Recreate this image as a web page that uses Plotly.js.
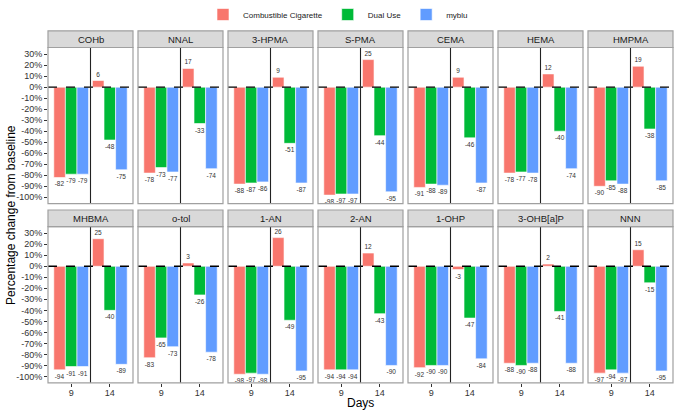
<!DOCTYPE html>
<html>
<head>
<meta charset="utf-8">
<script src="https://cdn.plot.ly/plotly-3.0.1.min.js"></script>
<style>html,body{margin:0;padding:0;background:#fff;}#chart{width:676px;height:412px;}</style>
</head>
<body>
<div id="chart"></div>
<script>
const markers = ['COHb','NNAL','3-HPMA','S-PMA','CEMA','HEMA','HMPMA','MHBMA','o-tol','1-AN','2-AN','1-OHP','3-OHB[a]P','NNN'];
const days = ['9','14'];
const seriesNames = ['Combustible Cigarette','Dual Use','myblu'];
const cig9  = [-82,-78,-88,-98,-91,-78,-90,-94,-83,-98,-94,-92,-88,-97];
const cig14 = [6,17,9,25,9,12,19,25,3,26,12,-3,2,15];
const dual9  = [-79,-73,-87,-97,-88,-77,-85,-91,-65,-97,-94,-90,-90,-94];
const dual14 = [-48,-33,-51,-44,-46,-40,-38,-40,-26,-49,-43,-47,-41,-15];
const blu9  = [-79,-77,-86,-97,-89,-78,-88,-91,-73,-98,-94,-90,-88,-97];
const blu14 = [-75,-74,-87,-95,-87,-74,-85,-89,-78,-95,-90,-84,-88,-95];
const yTicks = [30,20,10,0,-10,-20,-30,-40,-50,-60,-70,-80,-90,-100];

const colors = ['#F8766D','#00BA38','#619CFF'];
const seriesData = [[cig9,cig14],[dual9,dual14],[blu9,blu14]];
const W = 676, H = 412;
const FONT = 'Liberation Sans, Arial, sans-serif';

const traces = [];
const layout = {
  width: W, height: H,
  margin: {l:0, r:0, t:0, b:0},
  paper_bgcolor: '#fff', plot_bgcolor: '#fff',
  barmode: 'group', bargap: 0.1, bargroupgap: 0,
  font: {family: FONT, color: '#1a1a1a'},
  showlegend: true,
  legend: {orientation: 'h', x: 0.5, xanchor: 'center', y: 1.005, yanchor: 'top',
           font: {size: 8, color: '#1a1a1a'}, itemwidth: 30, tracegroupgap: 0},
  shapes: [], annotations: []
};

const rowsPx = [[45.7, 202.7], [225.7, 382.7]];
markers.forEach((m, i) => {
  const r = Math.floor(i / 7), c = i % 7;
  const n = i + 1;
  const xa = 'xaxis' + (n === 1 ? '' : n), ya = 'yaxis' + (n === 1 ? '' : n);
  const xr = 'x' + (n === 1 ? '' : n), yr = 'y' + (n === 1 ? '' : n);
  const x0 = 48 + 90 * c, x1 = x0 + 85;
  const [t, b] = rowsPx[r];
  layout[xa] = {
    domain: [x0 / W, x1 / W], anchor: yr, type: 'category',
    categoryorder: 'array', categoryarray: days,
    range: [-0.6, 1.6], showgrid: false, zeroline: false, showline: false,
    ticks: r === 1 ? 'outside' : '', ticklen: 3, tickcolor: '#333', tickwidth: 1,
    ticklabelstandoff: -2,
    showticklabels: r === 1, tickfont: {size: 9, color: '#333', family: FONT}, fixedrange: true
  };
  layout[ya] = {
    domain: [1 - b / H, 1 - t / H], anchor: xr,
    range: [-105.8, 36], showgrid: false, zeroline: false, showline: false,
    tickvals: yTicks, ticktext: yTicks.map(v => v + '%'),
    ticks: c === 0 ? 'outside' : '', ticklen: 3, tickcolor: '#333', tickwidth: 1,
    showticklabels: c === 0, tickfont: {size: 9, color: '#333', family: FONT}, fixedrange: true
  };
  seriesNames.forEach((s, k) => {
    const vals = [seriesData[k][0][i], seriesData[k][1][i]];
    traces.push({
      type: 'bar', x: days, y: vals, name: s, xaxis: xr, yaxis: yr,
      marker: {color: colors[k], line: {color: '#fff', width: 0.6}},
      text: vals.map(v => String(v)), textposition: 'outside', textangle: 0,
      textfont: {size: 6.5, color: '#333', family: FONT}, cliponaxis: false,
      constraintext: 'none', legendgroup: s, showlegend: i === 0, hoverinfo: 'skip'
    });
  });
  layout.shapes.push({type: 'line', xref: xr + ' domain', yref: yr, x0: 0, x1: 1, y0: 0, y1: 0,
    line: {color: '#000', width: 1.3, dash: 'dash'}, layer: 'above'});
  layout.shapes.push({type: 'line', xref: xr, yref: yr + ' domain', x0: 0.5, x1: 0.5, y0: 0, y1: 1,
    line: {color: '#222', width: 1.1}, layer: 'above'});
  layout.shapes.push({type: 'rect', xref: 'paper', yref: 'paper', x0: x0 / W, x1: x1 / W,
    y0: 1 - b / H, y1: 1 - t / H, line: {color: '#A0A0A0', width: 1.2}, layer: 'above'});
  layout.shapes.push({type: 'rect', xref: 'paper', yref: 'paper', x0: x0 / W, x1: x1 / W,
    y0: 1 - t / H, y1: 1 - (t - 16.7) / H, fillcolor: '#D9D9D9', line: {color: '#A0A0A0', width: 1.2}, layer: 'below'});
  layout.annotations.push({xref: 'paper', yref: 'paper', x: (x0 + x1) / 2 / W, y: 1 - (t - 8.35) / H,
    text: m, showarrow: false, xanchor: 'center', yanchor: 'middle',
    font: {size: 9.5, color: '#1a1a1a', family: FONT}});
});

layout.annotations.push({xref: 'paper', yref: 'paper', x: 11 / W, y: 1 - 214 / H,
  text: 'Percentage change from baseline', textangle: -90, showarrow: false,
  xanchor: 'center', yanchor: 'middle', font: {size: 12, color: '#000', family: FONT}});
layout.annotations.push({xref: 'paper', yref: 'paper', x: 360 / W, y: 1 - 403 / H,
  text: 'Days', showarrow: false, xanchor: 'center', yanchor: 'middle',
  font: {size: 12, color: '#000', family: FONT}});

Plotly.newPlot('chart', traces, layout, {staticPlot: true, displayModeBar: false});
</script>
</body>
</html>
